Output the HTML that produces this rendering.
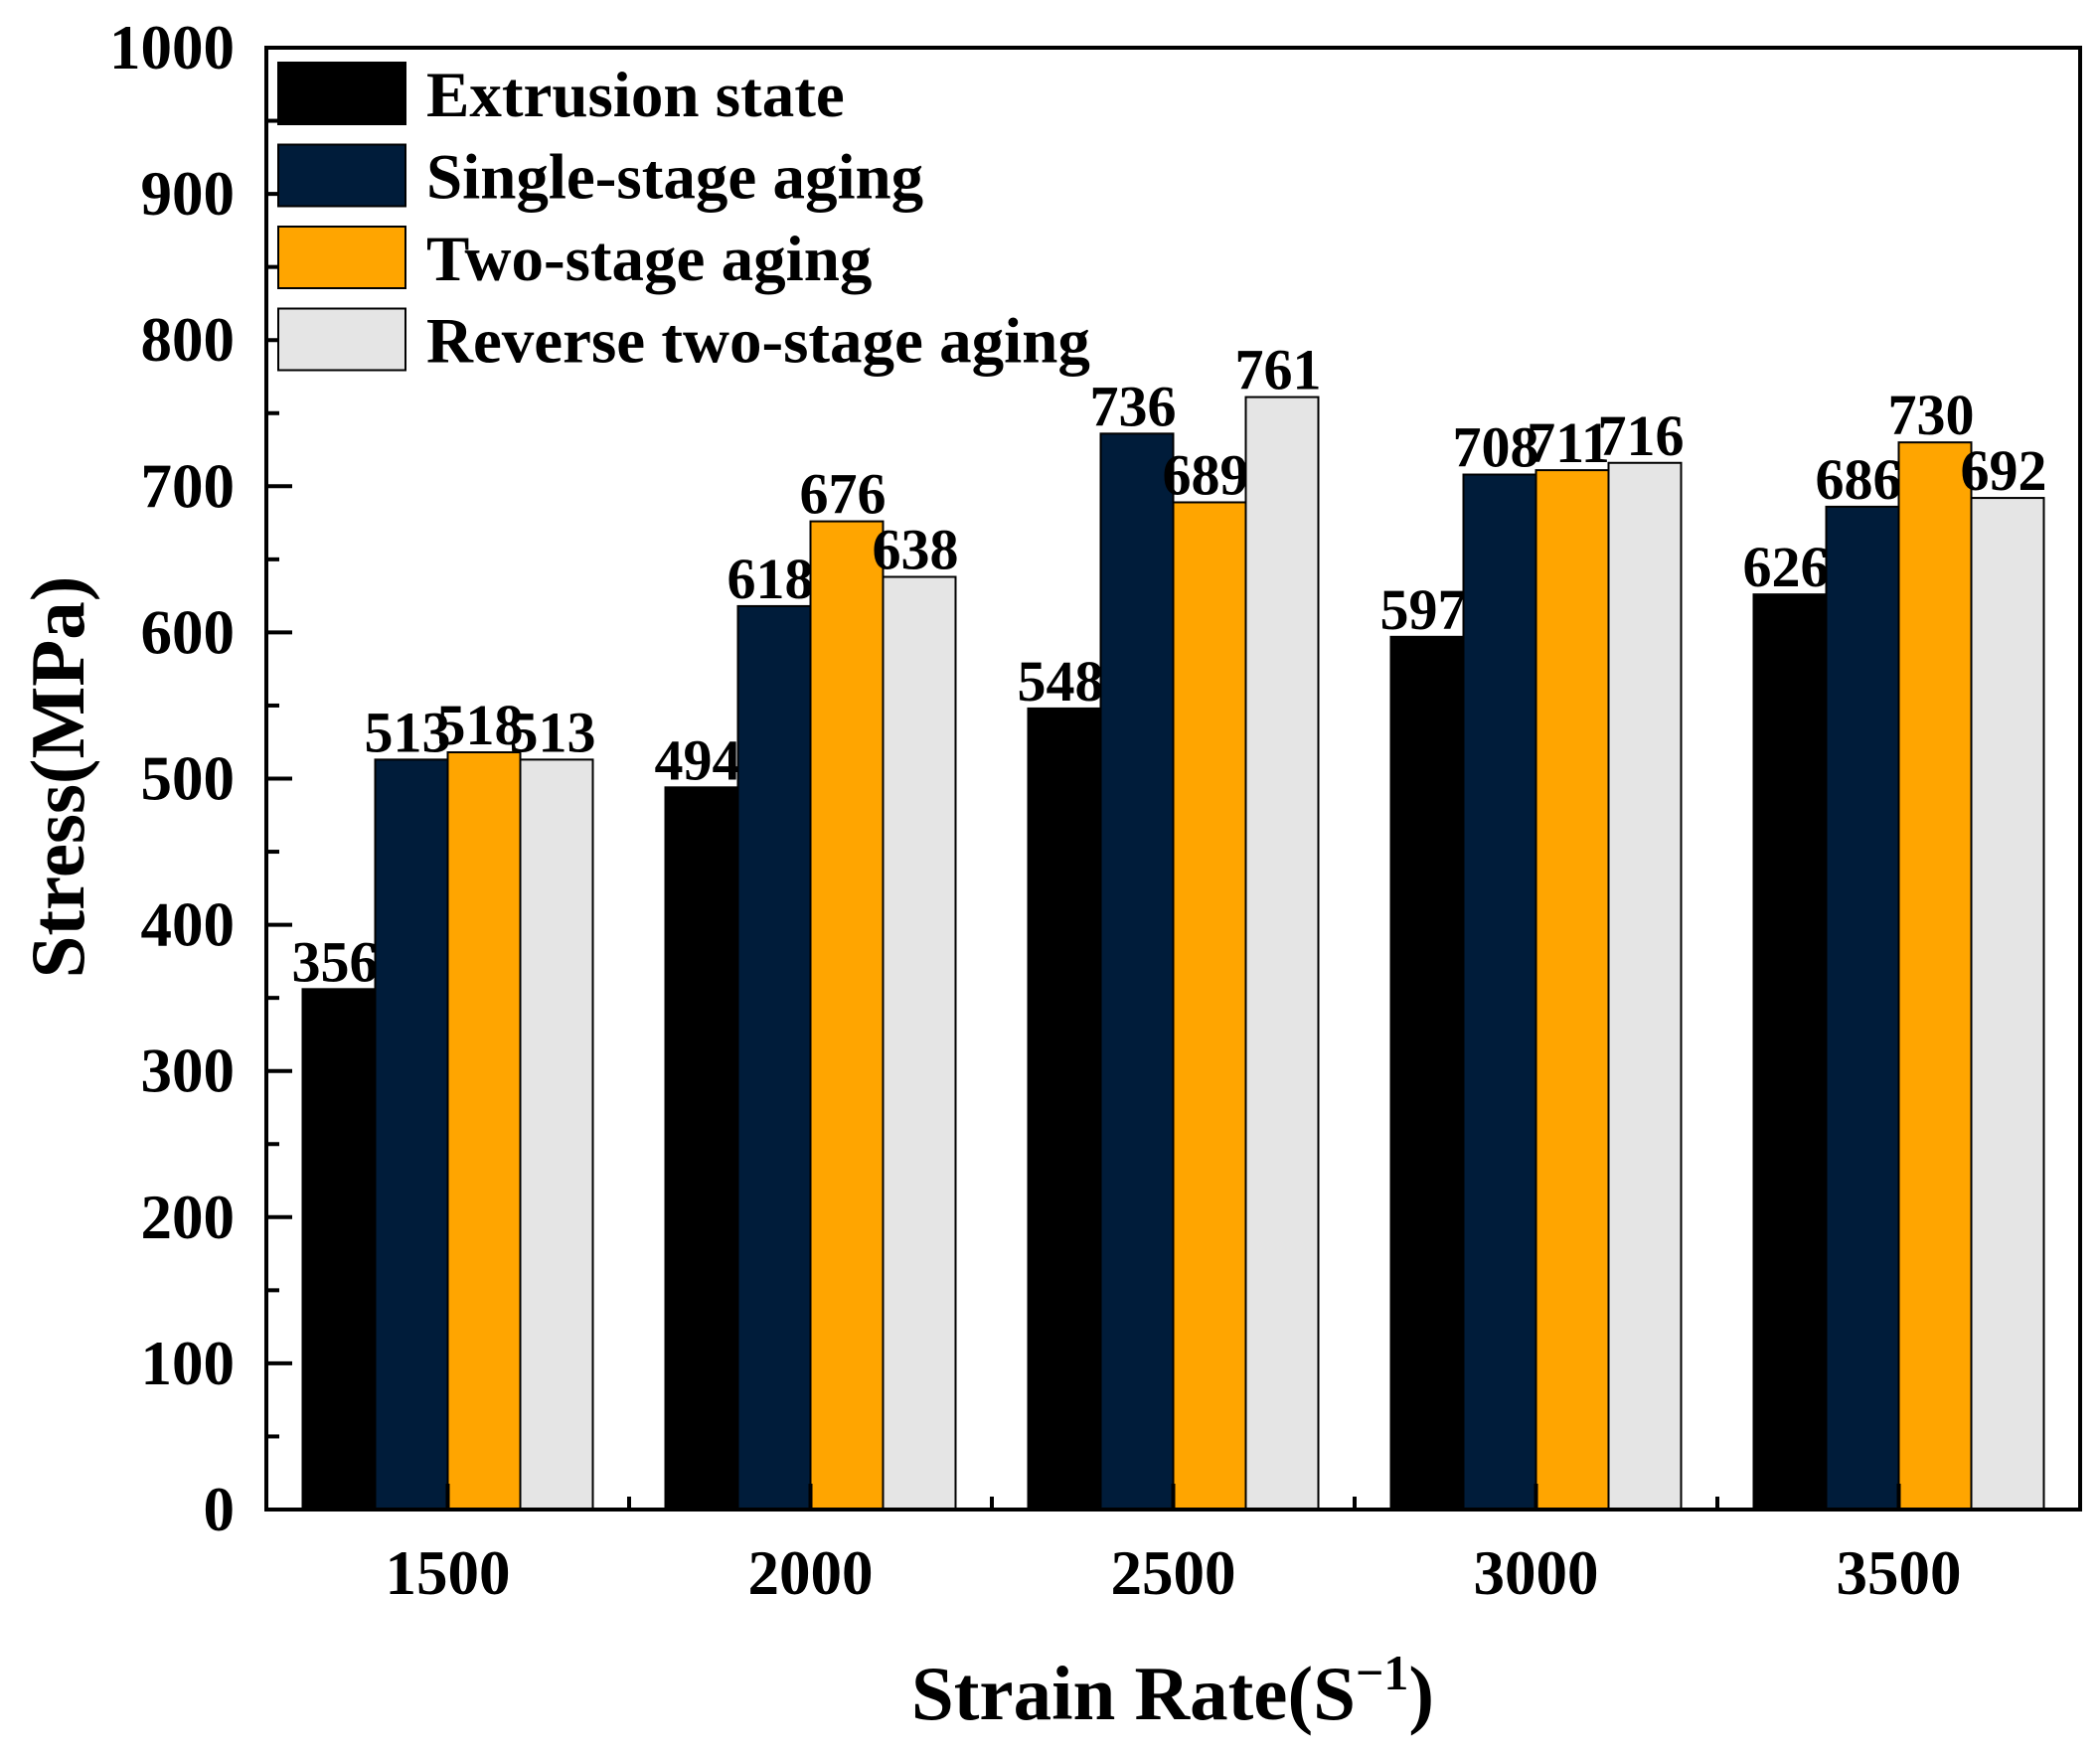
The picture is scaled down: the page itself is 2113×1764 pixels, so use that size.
<!DOCTYPE html>
<html><head><meta charset="utf-8"><style>html,body{margin:0;padding:0;background:#fff}svg{display:block}text{font-family:"Liberation Serif",serif;font-weight:bold;fill:#000}</style></head>
<body>
<svg id="chart" width="2113" height="1764" viewBox="0 0 2113 1764">
<g id="bars"></g>
<g id="axes"></g>
<g id="legend"></g>
</svg>
<script>
const categories = ["1500","2000","2500","3000","3500"];
const seriesNames = ["Extrusion state","Single-stage aging","Two-stage aging","Reverse two-stage aging"];
const seriesColors = ["#000000","#001c3a","#ffa500","#e5e5e5"];
const extrusion = [356,494,548,597,626];
const single = [513,618,736,708,686];
const twoStage = [518,676,689,711,730];
const reverse = [513,638,761,716,692];
const yTicks = [0,100,200,300,400,500,600,700,800,900,1000];

const series = [extrusion,single,twoStage,reverse];
const NS="http://www.w3.org/2000/svg";
const L=268,R=2093,T=48,B=1519;
const band=(R-L)/categories.length, bw=73;
const y=v=>B-(v/1000)*(B-T);
const xc=i=>L+band*(i+0.5);
function mk(tag,attrs,parent,txt){const e=document.createElementNS(NS,tag);for(const k in attrs)e.setAttribute(k,attrs[k]);if(txt!==undefined)e.textContent=txt;parent.appendChild(e);return e;}
const gb=document.getElementById('bars'),ga=document.getElementById('axes'),gl=document.getElementById('legend');
series.forEach((s,si)=>{s.forEach((v,ci)=>{
 const x0=xc(ci)-2*bw+si*bw;
 const r=mk('rect',{x:x0,y:y(v),width:bw,height:B-y(v),fill:seriesColors[si],stroke:'#000','stroke-width':2},gb);
 
 
 const t=mk('text',{x:x0+bw/2-4,y:y(v)-8,'text-anchor':'middle','font-size':58},gb,String(v));
 
 
});});
const fr=mk('rect',{x:L,y:T,width:R-L,height:B-T,fill:'none',stroke:'#000','stroke-width':4},ga);


yTicks.forEach((v,i)=>{
 mk('line',{x1:L,x2:L+26,y1:y(v),y2:y(v),stroke:'#000','stroke-width':4},ga);
 if(i<yTicks.length-1) mk('line',{x1:L,x2:L+13,y1:y(v+50),y2:y(v+50),stroke:'#000','stroke-width':4},ga);
 const t=mk('text',{x:236,y:y(v),'text-anchor':'end','dominant-baseline':'central','font-size':63},ga,String(v));
 
 
});
categories.forEach((c,i)=>{
 mk('line',{x1:xc(i),x2:xc(i),y1:B,y2:B-26,stroke:'#000','stroke-width':4},ga);
 if(i>0) mk('line',{x1:L+band*i,x2:L+band*i,y1:B,y2:B-13,stroke:'#000','stroke-width':4},ga);
 const t=mk('text',{x:xc(i),y:1604,'text-anchor':'middle','font-size':63},ga,c);
 
 
});
const yt=mk('text',{x:0,y:0,'text-anchor':'middle','font-size':77,transform:'translate(84,782) rotate(-90)'},ga,'Stress(MPa)');


const xt=mk('text',{x:1180,y:1730,'text-anchor':'middle','font-size':77},ga);


xt.innerHTML='Strain Rate(S<tspan dy="-30" font-size="50">−1</tspan><tspan dy="30">)</tspan>';
seriesNames.forEach((n,i)=>{
 const yy=63+i*82.5;
 const r=mk('rect',{x:280,y:yy,width:128,height:62,fill:seriesColors[i],stroke:'#000','stroke-width':2},gl);
 
 
 const t=mk('text',{x:429,y:yy+33,'dominant-baseline':'central','font-size':65},gl,n);
 
 
});
</script>
</body></html>
